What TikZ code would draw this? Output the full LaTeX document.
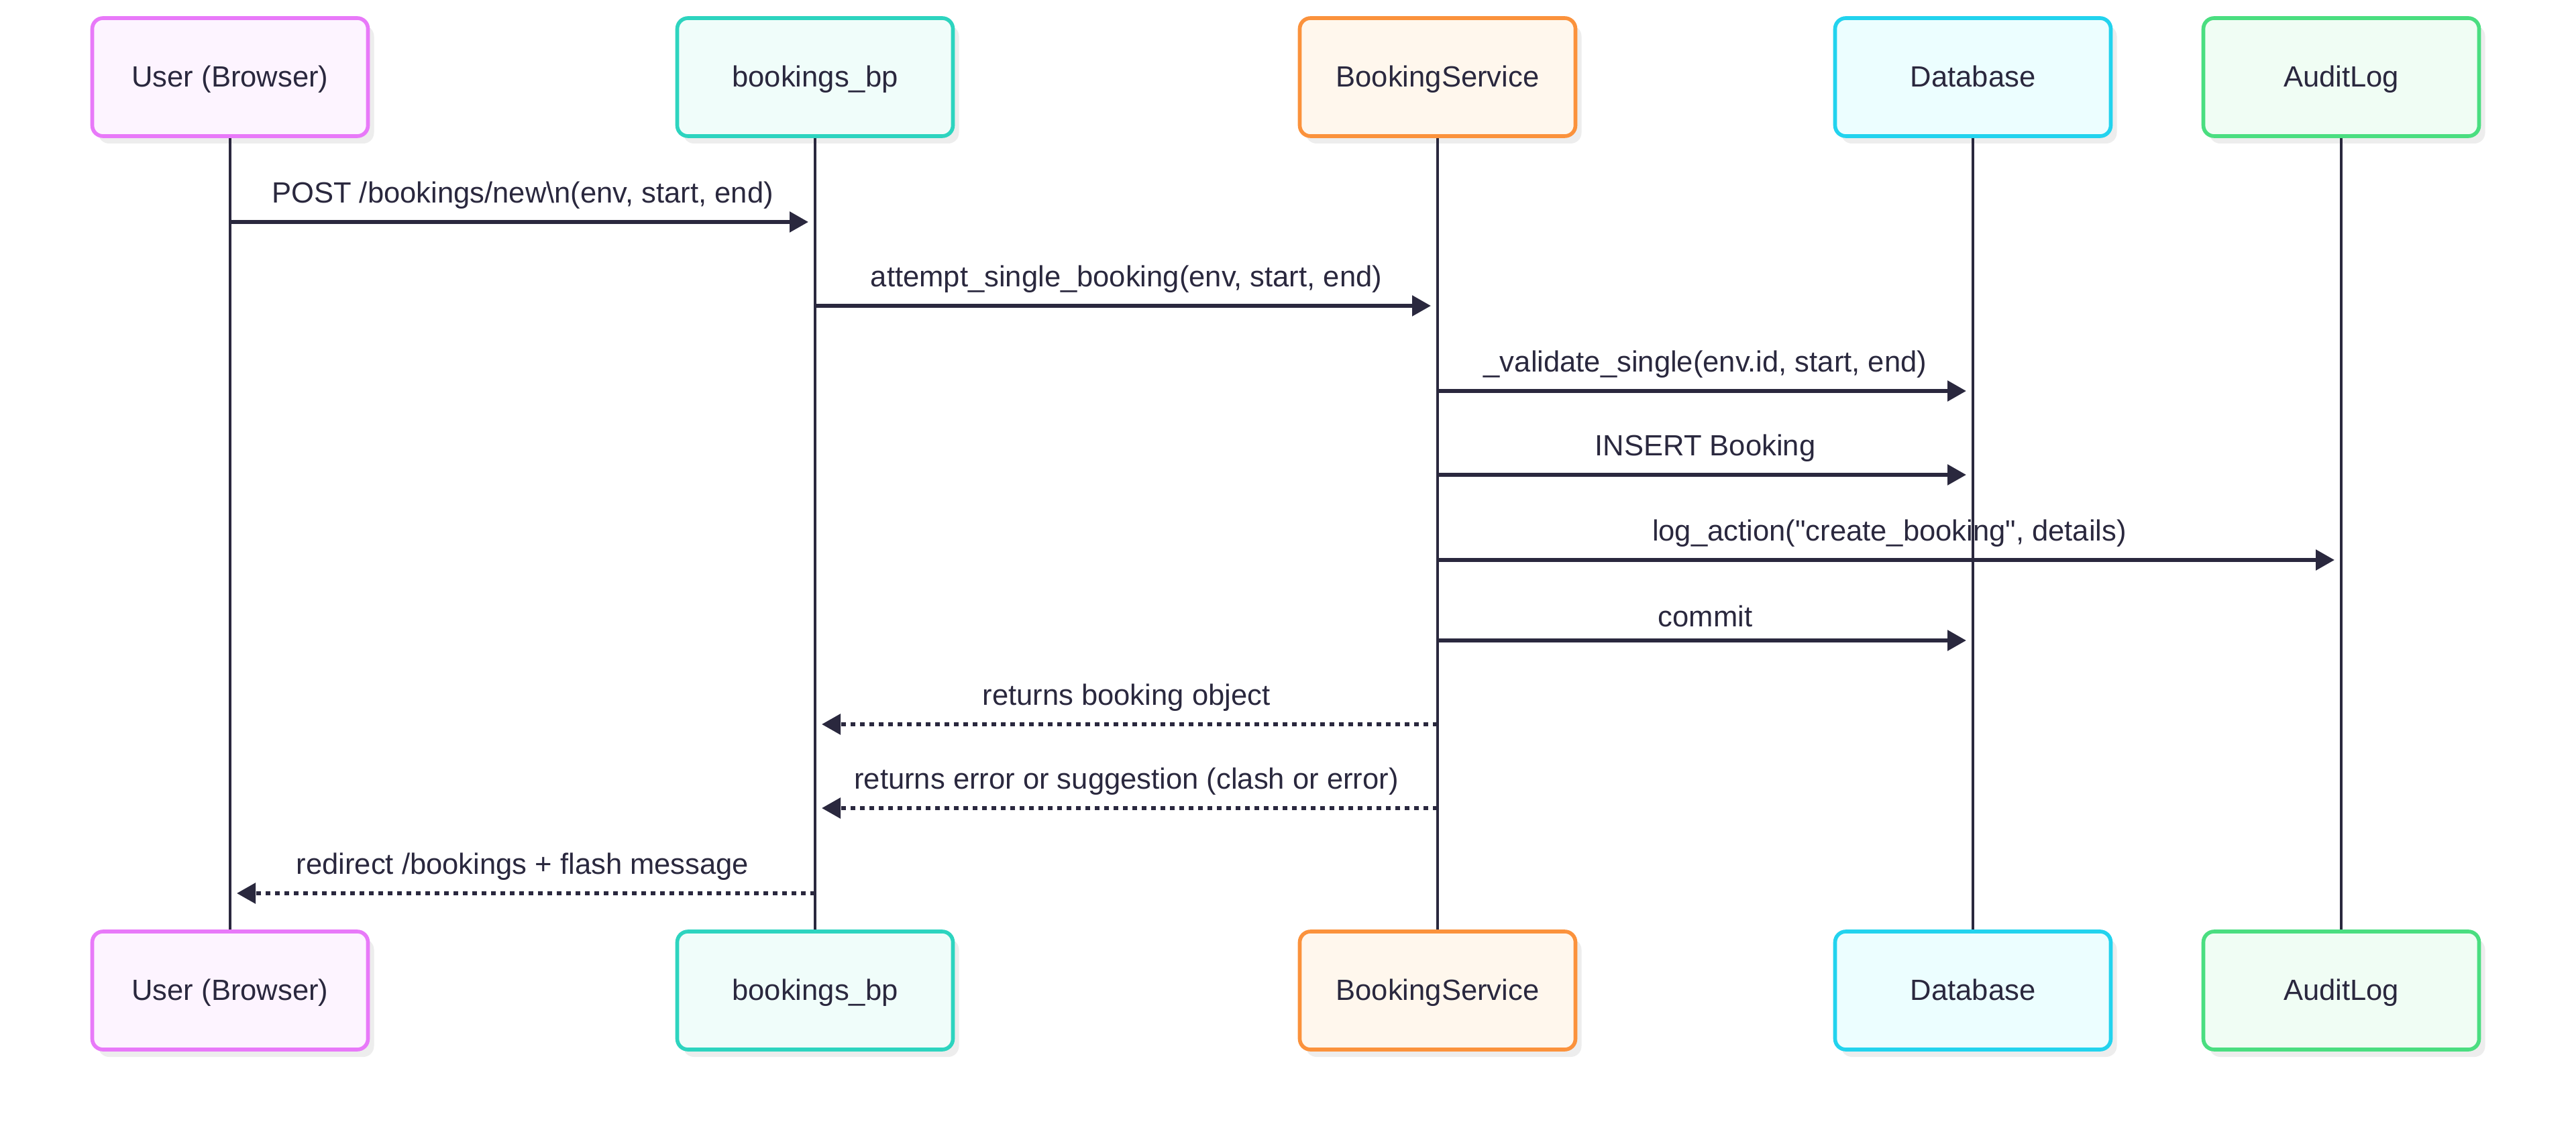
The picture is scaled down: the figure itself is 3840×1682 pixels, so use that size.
\documentclass[tikz,border=0pt]{standalone}
\usepackage{fontspec}
\setmainfont{Liberation Sans}
\usetikzlibrary{positioning,arrows.meta,shadows,calc}

\definecolor{ink}{RGB}{42,40,62}
\definecolor{userLine}{RGB}{232,121,249}
\definecolor{userFill}{RGB}{253,244,255}
\definecolor{bpLine}{RGB}{45,212,191}
\definecolor{bpFill}{RGB}{240,253,250}
\definecolor{svcLine}{RGB}{251,146,60}
\definecolor{svcFill}{RGB}{255,247,237}
\definecolor{dbLine}{RGB}{34,211,238}
\definecolor{dbFill}{RGB}{236,254,255}
\definecolor{auditLine}{RGB}{74,222,128}
\definecolor{auditFill}{RGB}{240,253,244}

\begin{document}
\begin{tikzpicture}[
  x=0.1mm, y=-0.1mm,
  font=\fontsize{12.4}{14}\selectfont,
  >={Triangle[length=2.8mm,width=3mm]},
  actor/.style={draw, line width=1.6pt, rounded corners=1.6mm,
                minimum width=41.1mm, minimum height=17.6mm, text=ink,
                text height=0.92em, text depth=0.1em,
                drop shadow={shadow xshift=0.9mm, shadow yshift=-1.1mm,
                             fill=black!7, opacity=1}},
  life/.style={draw=ink, line width=1.1pt},
  msg/.style={->, draw=ink, line width=1.6pt, shorten >=1mm},
  ret/.style={msg, dash pattern=on 0.75mm off 0.65mm},
  lbl/.style={above=1.7mm, inner sep=0pt, text=ink},
]
\useasboundingbox (0,0) rectangle (3840,1682);

% ---------- participants (top row) ----------
\node[actor, draw=userLine, fill=userFill] (userT) at (343,115) {User (Browser)};
\node[actor, draw=bpLine, fill=bpFill] (bpT) at (1215,115) {bookings\_bp};
\node[actor, draw=svcLine, fill=svcFill] (svcT) at (2143,115) {BookingService};
\node[actor, draw=dbLine, fill=dbFill] (dbT) at (2941,115) {Database};
\node[actor, draw=auditLine, fill=auditFill] (auditT) at (3490,115) {AuditLog};

% ---------- participants (bottom row) ----------
\node[actor, draw=userLine, fill=userFill] (userB) at (343,1477) {User (Browser)};
\node[actor, draw=bpLine, fill=bpFill] (bpB) at (1215,1477) {bookings\_bp};
\node[actor, draw=svcLine, fill=svcFill] (svcB) at (2143,1477) {BookingService};
\node[actor, draw=dbLine, fill=dbFill] (dbB) at (2941,1477) {Database};
\node[actor, draw=auditLine, fill=auditFill] (auditB) at (3490,1477) {AuditLog};

% ---------- lifelines ----------
\draw[life] (userT.south) -- (userB.north);
\draw[life] (bpT.south) -- (bpB.north);
\draw[life] (svcT.south) -- (svcB.north);
\draw[life] (dbT.south) -- (dbB.north);
\draw[life] (auditT.south) -- (auditB.north);

% ---------- message rows ----------
\coordinate (r1) at (0,331);
\coordinate (r2) at (0,456);
\coordinate (r3) at (0,583);
\coordinate (r4) at (0,708);
\coordinate (r5) at (0,835);
\coordinate (r6) at (0,955);
\coordinate (r7) at (0,1080);
\coordinate (r8) at (0,1205);
\coordinate (r9) at (0,1332);

\draw[msg] (userT |- r1) -- (bpT |- r1)
      node[lbl, midway] {POST /bookings/new\textbackslash n(env, start, end)};
\draw[msg] (bpT |- r2) -- (svcT |- r2)
      node[lbl, midway] {attempt\_single\_booking(env, start, end)};
\draw[msg] (svcT |- r3) -- (dbT |- r3)
      node[lbl, midway] {\_validate\_single(env.id, start, end)};
\draw[msg] (svcT |- r4) -- (dbT |- r4)
      node[lbl, midway] {INSERT Booking};
\draw[msg] (svcT |- r5) -- (auditT |- r5)
      node[lbl, midway] {log\_action(\textquotedbl create\_booking\textquotedbl, details)};
\draw[msg] (svcT |- r6) -- (dbT |- r6)
      node[lbl, midway] {commit};

% replies
\draw[ret] (svcT |- r7) -- (bpT |- r7)
      node[lbl, midway] {returns booking object};
\draw[ret] (svcT |- r8) -- (bpT |- r8)
      node[lbl, midway] {returns error or suggestion (clash or error)};
\draw[ret] (bpT |- r9) -- (userT |- r9)
      node[lbl, midway] {redirect /bookings + flash message};

\end{tikzpicture}
\end{document}
